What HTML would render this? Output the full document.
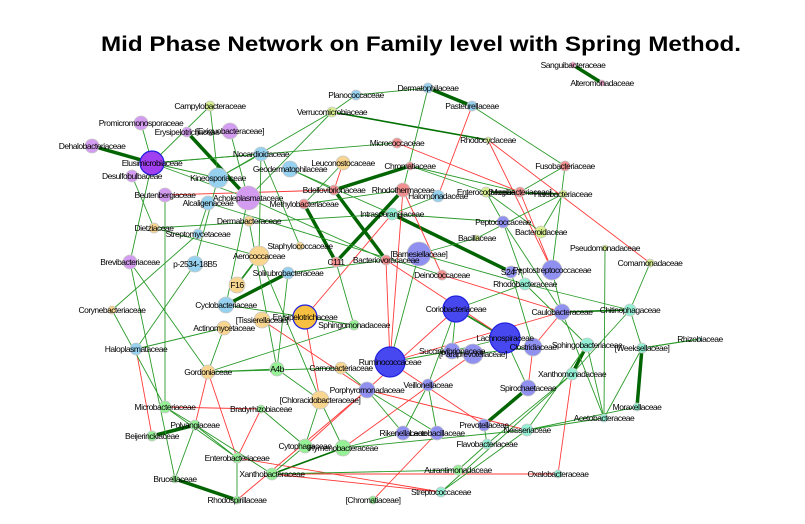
<!DOCTYPE html>
<html><head><meta charset="utf-8"><style>
html,body{margin:0;padding:0;background:#fff;}
svg{display:block;}
.lbl{font-family:"Liberation Sans",Arial,sans-serif;font-size:8.5px;fill:#000;letter-spacing:-0.5px;}
</style></head><body>
<svg id="net" width="805" height="524" viewBox="0 0 805 524">
<text x="101" y="51" font-family="Liberation Sans, Arial, sans-serif" font-weight="bold" font-size="21.5" textLength="640" lengthAdjust="spacingAndGlyphs">Mid Phase Network on Family level with Spring Method.</text>
<g id="edges"></g>
<g id="nodes"></g>
<g id="labels"></g>
</svg>
<script>
const COL={P:'#d49cf0',DP:'#a040f0',LB:'#96d2f0',Y:'#f8d690',O:'#f8c040',YG:'#d8f090',R:'#f09090',AQ:'#94f0d4',BP:'#9090f0',B:'#4848f0',LG:'#96f096',PK:'#f0a0c8'};
const nodeNames=['Campylobacteraceae','Promicromonosporaceae','Erysipelotrichaceae2','[Exiguobacteraceae]','Dehalobacteriaceae','Elusimicrobiaceae','Desulfobulbaceae','Nocardioidaceae','Geodermatophilaceae','Kineosporiaceae','Leuconostocaceae','Chromatiaceae','Micrococcaceae','Bdellovibrionaceae','Rhodothermaceae','Halomonadaceae','Beutenbergiaceae','Alcaligenaceae','Acholeplasmataceae','Methylobacteriaceae','Intrasporangiaceae','Dermabacteraceae','Dietziaceae','Streptomycetaceae','Staphylococcaceae','Aerococcaceae','C111','Bacteriovoracaceae','[Barnesiellaceae]','Brevibacteriaceae','p-2534-18B5','Solirubrobacteraceae','F16','Planococcaceae','Verrucomicrobiaceae','Dermatophilaceae','Pasteurellaceae','Sanguibacteraceae','Alteromonadaceae','Rhodocyclaceae','Fusobacteriaceae','Enterococcaceae','[Mogibacteriaceae]','Halobacteriaceae','Peptococcaceae','Bacteroidaceae','Bacillaceae','Pseudomonadaceae','Comamonadaceae','Deinococcaceae','S24-7','Peptostreptococcaceae','Rhodobacteraceae','Chitinophagaceae','Coriobacteriaceae','Caulobacteraceae','Lachnospiraceae','Clostridiaceae','Succinivibrionaceae','[Paraprevotellaceae]','Sphingobacteriaceae','[Weeksellaceae]','Rhizobiaceae','Xanthomonadaceae','Ruminococcaceae','Veillonellaceae','Spirochaetaceae','Moraxellaceae','Acetobacteraceae','Prevotellaceae','Lactobacillaceae','Rikenellaceae','Neisseriaceae','Flavobacteriaceae','Aurantimonadaceae','Oxalobacteraceae','Streptococcaceae','[Chromatiaceae]','Corynebacteriaceae','Cyclobacteriaceae','[Tissierellaceae]','Erysipelotrichaceae','Actinomycetaceae','Sphingomonadaceae','Haloplasmataceae','Gordoniaceae','A4b','Carnobacteriaceae','Porphyromonadaceae','[Chloracidobacteraceae]','Microbacteriaceae','Bradyrhizobiaceae','Polyangiaceae','Beijerinckiaceae','Cytophagaceae','Hymenobacteraceae','Enterobacteriaceae','Xanthobacteraceae','Brucellaceae','Rhodospirillaceae'];
const nodeX=[210,141,187,230,92,152,132,261,290,218,343,410,397,334,403,438,165,208,248,304,392,249,154,198,300,259,336,386,419,130,195,288,237,356,332,428,472,573,602,488,565,486,520,563,503,541,477,605,650,442,511,552,525,630,456,562,505,533,452,473,587,642,700,572,390,428,528,637,604,484,437,403,527,487,458,558,441,373,112,226,262,305,224,354,136,208,277,341,367,320,165,261,195,152,305,343,237,272,175,237];
const nodeY=[106,123,132,131,146,163,176,154,169,178,163,166,143,190,190,196,195,203,198,204,214,221,228,234,246,256,262,260,254,262,264,273,285,95,112,88,106,65,83,140,166,192,192,194,222,232,238,248,263,275,272,270,284,310,309,312,338,347,351,354,345,348,339,374,362,385,388,407,418,425,433,433,430,444,470,474,492,500,310,305,320,317,328,325,349,372,369,368,390,400,407,409,425,436,446,448,458,474,479,500];
const nodeR=[5,7,5,8,7,12,6,7,8,10,7,4,5,5,7,6,7,7,12,5,6,5,5,5,4,10,5,5,12,7,8,6,8,5,5,5,5,3,3,3,5,5,5,4,6,6,3,3,4,5,6,10,6,6,13,8,15,9,8,10,7,5,2,6,15,6,8,4,4,6,7,7,6,5,5,4,5,4,4,8,8,12,7,5,6,7,7,6,8,9,6,4,5,5,7,8,5,6,4,4];
const nodeC=['YG','P','P','P','P','DP','P','LB','LB','LB','Y','R','R','R','R','LB','P','LB','P','R','AQ','Y','Y','LB','Y','Y','R','R','BP','P','LB','LB','Y','LB','YG','LB','LB','PK','PK','YG','R','YG','R','YG','BP','YG','YG','YG','YG','R','BP','BP','AQ','AQ','B','BP','B','BP','BP','BP','AQ','AQ','AQ','AQ','B','BP','BP','AQ','AQ','BP','BP','BP','AQ','AQ','LG','AQ','AQ','LG','Y','LB','Y','O','Y','LG','LB','Y','LG','Y','BP','Y','LG','LG','LG','LG','LG','LG','LG','LG','LG','LG'];
const labelText=['Campylobacteraceae','Promicromonosporaceae','Erysipelotrichaceae','[Exiguobacteraceae]','Dehalobacteriaceae','Elusimicrobiaceae','Desulfobulbaceae','Nocardioidaceae','Geodermatophilaceae','Kineosporiaceae','Leuconostocaceae','Chromatiaceae','Micrococcaceae','Bdellovibrionaceae','Rhodothermaceae','Halomonadaceae','Beutenbergiaceae','Alcaligenaceae','Acholeplasmataceae','Methylobacteriaceae','Intrasporangiaceae','Dermabacteraceae','Dietziaceae','Streptomycetaceae','Staphylococcaceae','Aerococcaceae','C111','Bacteriovoracaceae','[Barnesiellaceae]','Brevibacteriaceae','p-2534-18B5','Solirubrobacteraceae','F16','Planococcaceae','Verrucomicrobiaceae','Dermatophilaceae','Pasteurellaceae','Sanguibacteraceae','Alteromonadaceae','Rhodocyclaceae','Fusobacteriaceae','Enterococcaceae','[Mogibacteriaceae]','Halobacteriaceae','Peptococcaceae','Bacteroidaceae','Bacillaceae','Pseudomonadaceae','Comamonadaceae','Deinococcaceae','S24-7','Peptostreptococcaceae','Rhodobacteraceae','Chitinophagaceae','Coriobacteriaceae','Caulobacteraceae','Lachnospiraceae','Clostridiaceae','Succinivibrionaceae','[Paraprevotellaceae]','Sphingobacteriaceae','[Weeksellaceae]','Rhizobiaceae','Xanthomonadaceae','Ruminococcaceae','Veillonellaceae','Spirochaetaceae','Moraxellaceae','Acetobacteraceae','Prevotellaceae','Lactobacillaceae','Rikenellaceae','Neisseriaceae','Flavobacteriaceae','Aurantimonadaceae','Oxalobacteraceae','Streptococcaceae','[Chromatiaceae]','Corynebacteriaceae','Cyclobacteriaceae','[Tissierellaceae]','Erysipelotrichaceae','Actinomycetaceae','Sphingomonadaceae','Haloplasmataceae','Gordoniaceae','A4b','Carnobacteriaceae','Porphyromonadaceae','[Chloracidobacteraceae]','Microbacteriaceae','Bradyrhizobiaceae','Polyangiaceae','Beijerinckiaceae','Cytophagaceae','Hymenobacteraceae','Enterobacteriaceae','Xanthobacteraceae','Brucellaceae','Rhodospirillaceae'];
// edges: [from, to, type] type g=green, r=red, t=thick dark green, d=dark green
const edgeFrom=['Dehalobacteriaceae','Erysipelotrichaceae2','Sanguibacteraceae','Dermatophilaceae','Bdellovibrionaceae','Methylobacteriaceae','Rhodothermaceae','Bdellovibrionaceae','Intrasporangiaceae','Cyclobacteriaceae','Beijerinckiaceae','Brucellaceae','Spirochaetaceae','[Weeksellaceae]','Sphingobacteriaceae','Enterococcaceae','Caulobacteraceae','Xanthobacteraceae','Coriobacteriaceae','Succinivibrionaceae','Verrucomicrobiaceae','Aerococcaceae',
'Beutenbergiaceae','Gordoniaceae','Gordoniaceae','Haloplasmataceae','Microbacteriaceae','Enterobacteriaceae','Xanthobacteraceae','Xanthobacteraceae','Erysipelotrichaceae','[Tissierellaceae]','Cytophagaceae','Hymenobacteraceae','[Chromatiaceae]','Ruminococcaceae','Porphyromonadaceae','Deinococcaceae','Pasteurellaceae','Rhodocyclaceae','Rhodocyclaceae','Micrococcaceae','Rhodothermaceae','Rhodothermaceae','Leuconostocaceae','Intrasporangiaceae','Bacteriovoracaceae','Caulobacteraceae','Xanthomonadaceae','Clostridiaceae','[Mogibacteriaceae]','Porphyromonadaceae','Ruminococcaceae','Bacteriovoracaceae','Enterobacteriaceae',
'Campylobacteraceae','Campylobacteraceae','Promicromonosporaceae','Elusimicrobiaceae','Elusimicrobiaceae','Elusimicrobiaceae','Elusimicrobiaceae','Desulfobulbaceae','[Exiguobacteraceae]','Kineosporiaceae','Kineosporiaceae','Planococcaceae','Planococcaceae','Verrucomicrobiaceae','Verrucomicrobiaceae','Dermatophilaceae','Pasteurellaceae','Micrococcaceae','Micrococcaceae','Nocardioidaceae','Nocardioidaceae','Geodermatophilaceae','Geodermatophilaceae','Leuconostocaceae','Acholeplasmataceae','Acholeplasmataceae','Alcaligenaceae','Alcaligenaceae','Beutenbergiaceae','Dietziaceae','Dietziaceae','Streptomycetaceae','Dermabacteraceae','Dermabacteraceae','Methylobacteriaceae','Brevibacteriaceae','Brevibacteriaceae','p-2534-18B5','Aerococcaceae','Solirubrobacteraceae','C111','Chromatiaceae','Chromatiaceae','Halomonadaceae','Intrasporangiaceae','Enterococcaceae','Enterococcaceae','Peptococcaceae','Peptococcaceae','Fusobacteriaceae','Fusobacteriaceae','Halobacteriaceae','Bacteroidaceae','Bacillaceae','Pseudomonadaceae','Comamonadaceae','[Barnesiellaceae]','[Barnesiellaceae]','Rhodobacteraceae','Rhodobacteraceae','Rhodobacteraceae','S24-7','Peptostreptococcaceae','Chitinophagaceae','Chitinophagaceae','Sphingobacteriaceae','Sphingobacteriaceae','[Weeksellaceae]','[Weeksellaceae]','Xanthomonadaceae','Xanthomonadaceae','Lachnospiraceae','Lachnospiraceae','Coriobacteriaceae','Coriobacteriaceae','Ruminococcaceae','Veillonellaceae','Veillonellaceae','Prevotellaceae','Neisseriaceae','Neisseriaceae','Flavobacteriaceae','Aurantimonadaceae','Lactobacillaceae','Rikenellaceae','Corynebacteriaceae','Cyclobacteriaceae','Actinomycetaceae','Haloplasmataceae','Gordoniaceae','A4b','A4b','A4b','Carnobacteriaceae','[Chloracidobacteraceae]','[Chloracidobacteraceae]','Microbacteriaceae','Microbacteriaceae','Polyangiaceae','Polyangiaceae','Bradyrhizobiaceae','Cytophagaceae','Hymenobacteraceae','Hymenobacteraceae','Brucellaceae','Rhodospirillaceae','Sphingomonadaceae','Erysipelotrichaceae','F16','Moraxellaceae','Acetobacteraceae','Rhizobiaceae','[Paraprevotellaceae]','Succinivibrionaceae'];
const edgeTo=['Elusimicrobiaceae','Acholeplasmataceae','Alteromonadaceae','Pasteurellaceae','Chromatiaceae','C111','C111','Bacteriovoracaceae','S24-7','Solirubrobacteraceae','Polyangiaceae','Rhodospirillaceae','Prevotellaceae','Moraxellaceae','Xanthomonadaceae','Halobacteriaceae','Chitinophagaceae','Hymenobacteraceae','Lachnospiraceae','[Paraprevotellaceae]','Rhodocyclaceae','F16',
'Bdellovibrionaceae','Polyangiaceae','Enterobacteriaceae','Beijerinckiaceae','Bradyrhizobiaceae','Bradyrhizobiaceae','Streptococcaceae','Oxalobacteraceae','[Chloracidobacteraceae]','Porphyromonadaceae','Coriobacteriaceae','[Paraprevotellaceae]','Lactobacillaceae','Prevotellaceae','Neisseriaceae','Caulobacteraceae','Halomonadaceae','Comamonadaceae','Peptostreptococcaceae','[Mogibacteriaceae]','Deinococcaceae','Ruminococcaceae','Bdellovibrionaceae','Erysipelotrichaceae','Ruminococcaceae','Clostridiaceae','Oxalobacteraceae','Spirochaetaceae','Peptostreptococcaceae','Rhodospirillaceae','Caulobacteraceae','Lachnospiraceae','Streptococcaceae',
'Elusimicrobiaceae','Kineosporiaceae','Elusimicrobiaceae','Kineosporiaceae','Acholeplasmataceae','Brevibacteriaceae','Nocardioidaceae','Dietziaceae','Acholeplasmataceae','Nocardioidaceae','p-2534-18B5','Verrucomicrobiaceae','Dermatophilaceae','Kineosporiaceae','Acholeplasmataceae','Rhodothermaceae','Fusobacteriaceae','Elusimicrobiaceae','Micrococcaceae','Aerococcaceae','Staphylococcaceae','Intrasporangiaceae','Bdellovibrionaceae','Methylobacteriaceae','Bacteriovoracaceae','Cyclobacteriaceae','Streptomycetaceae','Deinococcaceae','Microbacteriaceae','Intrasporangiaceae','Aerococcaceae','Corynebacteriaceae','Dermabacteraceae','A4b','Rhodothermaceae','Brucellaceae','Gordoniaceae','Haloplasmataceae','[Chloracidobacteraceae]','Bacteriovoracaceae','Sphingomonadaceae','Enterococcaceae','[Mogibacteriaceae]','Intrasporangiaceae','Peptococcaceae','Bacteroidaceae','Peptococcaceae','Rhodobacteraceae','Caulobacteraceae','[Mogibacteriaceae]','Peptostreptococcaceae','Bacillaceae','Halobacteriaceae','[Barnesiellaceae]','Acetobacteraceae','Chitinophagaceae','Rhodobacteraceae','Ruminococcaceae','Coriobacteriaceae','Sphingobacteriaceae','Chitinophagaceae','Clostridiaceae','Caulobacteraceae','[Weeksellaceae]','Xanthomonadaceae','Acetobacteraceae','Neisseriaceae','Rhizobiaceae','Acetobacteraceae','Flavobacteriaceae','Streptococcaceae','Spirochaetaceae','Succinivibrionaceae','Veillonellaceae','Lachnospiraceae','Succinivibrionaceae','Lactobacillaceae','Rikenellaceae','Flavobacteriaceae','Acetobacteraceae','Streptococcaceae','Aurantimonadaceae','Xanthobacteraceae','Porphyromonadaceae','Porphyromonadaceae','Microbacteriaceae','Erysipelotrichaceae','Gordoniaceae','Actinomycetaceae','Carnobacteriaceae','Gordoniaceae','[Chloracidobacteraceae]','Solirubrobacteraceae','Porphyromonadaceae','Cytophagaceae','Hymenobacteraceae','Polyangiaceae','Enterobacteriaceae','Enterobacteriaceae','Xanthobacteraceae','Cytophagaceae','Xanthobacteraceae','Rikenellaceae','Neisseriaceae','Polyangiaceae','Enterobacteriaceae','Gordoniaceae','Sphingomonadaceae','Aerococcaceae','Neisseriaceae','Caulobacteraceae','[Weeksellaceae]','Clostridiaceae','Coriobacteriaceae'];
const edgeType=['t','t','t','t','t','t','t','t','t','t','t','t','t','t','t','d','d','d','d','d','d','d',
'r','r','r','r','r','r','r','r','r','r','r','r','r','r','r','r','r','r','r','r','r','r','r','r','r','r','r','r','r','r','r','r','r'];
const STY={t:['#006400',3.5],d:['#007000',1.6],r:['#ff3a3a',0.9],g:['#2a9a2a',0.9]};
const NS='http://www.w3.org/2000/svg';
const idx=n=>nodeNames.indexOf(n);
const eg=document.getElementById('edges');
for(let i=0;i<edgeFrom.length;i++){
  const a=idx(edgeFrom[i]),b=idx(edgeTo[i]);if(a<0||b<0)continue;
  const s=STY[edgeType[i]||'g'];
  const l=document.createElementNS(NS,'line');
  l.setAttribute('x1',nodeX[a]);l.setAttribute('y1',nodeY[a]);l.setAttribute('x2',nodeX[b]);l.setAttribute('y2',nodeY[b]);
  l.setAttribute('stroke',s[0]);l.setAttribute('stroke-width',s[1]);
  
  
  eg.appendChild(l);
}
const ng=document.getElementById('nodes'),lg=document.getElementById('labels');
for(let i=0;i<nodeNames.length;i++){
  const c=document.createElementNS(NS,'circle');
  c.setAttribute('cx',nodeX[i]);c.setAttribute('cy',nodeY[i]);c.setAttribute('r',nodeR[i]);
  c.setAttribute('fill',COL[nodeC[i]]);
  const big=nodeR[i]>=12&&(nodeC[i]==='B'||nodeC[i]==='DP'||nodeC[i]==='O');
  c.setAttribute('stroke',big?'#2020e0':'#c8c8c8');c.setAttribute('stroke-width',big?1.2:0.8);
  
  
  ng.appendChild(c);
  const t=document.createElementNS(NS,'text');
  t.setAttribute('x',nodeX[i]);t.setAttribute('y',nodeY[i]+3);
  t.setAttribute('text-anchor','middle');t.setAttribute('class','lbl');
  t.textContent=labelText[i];
  
  
  lg.appendChild(t);
}
</script>
</body></html>
